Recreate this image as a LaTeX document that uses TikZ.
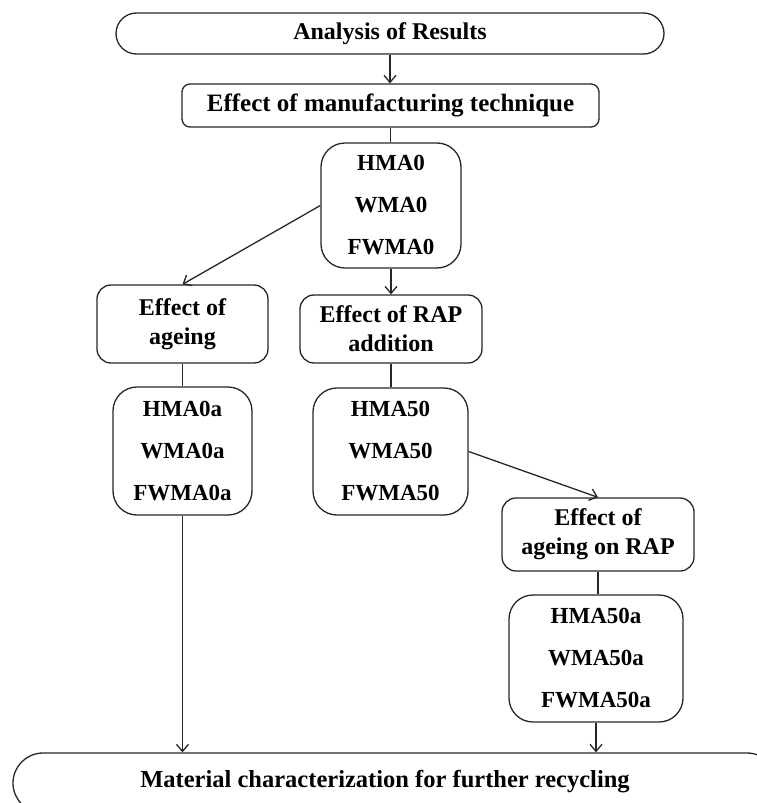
\documentclass[tikz,border=0pt]{standalone}
\usepackage{fontspec}
\setmainfont{Liberation Serif}
\usetikzlibrary{arrows.meta}
\begin{document}
\begin{tikzpicture}[x=1pt,y=-1pt,
  box/.style={draw=black!85,line width=1.3pt,rounded corners=#1,inner sep=0pt,align=center,
    font=\bfseries\fontsize{24}{29}\selectfont},
  box/.default=12pt,
  listbox/.style={box=24pt,font=\bfseries\fontsize{23}{42}\selectfont},
  ln/.style={draw=black!85,line width=1.3pt},
  arr/.style={ln,-{Straight Barb[length=7pt,width=12pt,line width=1.3pt]}}]
\clip (0,0) rectangle (757,803);
\node[box=20.5pt,minimum width=548pt,minimum height=41pt] (top) at (390,33.5) {Analysis of Results};
\node[box=8pt,minimum width=417pt,minimum height=43pt,font=\bfseries\fontsize{25}{29}\selectfont] (m) at (390.5,105.5) {Effect of manufacturing technique};
\node[listbox,minimum width=140pt,minimum height=125pt] (s0) at (391,205.5) {HMA0\\WMA0\\FWMA0};
\node[box=14pt,minimum width=171pt,minimum height=78pt] (ag) at (182.5,324) {Effect of\\ageing};
\node[box=14pt,minimum width=182pt,minimum height=68pt] (rap) at (391,329) {Effect of RAP\\addition};
\node[listbox,minimum width=139pt,minimum height=128pt] (s0a) at (182.5,451) {HMA0a\\WMA0a\\FWMA0a};
\node[listbox,minimum width=155pt,minimum height=127pt] (s50) at (390.5,451.5) {HMA50\\WMA50\\FWMA50};
\node[box=14pt,minimum width=192pt,minimum height=73pt] (agr) at (598,534.5) {Effect of\\ageing on RAP};
\node[listbox,minimum width=174pt,minimum height=127pt] (s50a) at (596,658.5) {HMA50a\\WMA50a\\FWMA50a};
\node[box=30pt,minimum width=764pt,minimum height=60pt] (bot) at (395,783) {};
\node[font=\bfseries\fontsize{24.5}{29}\selectfont,inner sep=0pt] (bt) at (385,782) {Material characterization for further recycling};
\draw[arr] (top.south) -- (top.south |- m.north);
\draw[ln] (m.south) -- (m.south |- s0.north);
\draw[arr] (s0.west) -- (ag.north);
\draw[arr] (s0.south) -- (rap.north);
\draw[ln] (ag.south) -- (s0a.north);
\draw[ln] (rap.south) -- (rap.south |- s50.north);
\draw[arr] (s50.east) -- (agr.north);
\draw[ln] (agr.south) -- (agr.south |- s50a.north);
\draw[arr] (s0a.south) -- (s0a.south |- bot.north);
\draw[arr] (s50a.south) -- (s50a.south |- bot.north);
\end{tikzpicture}
\end{document}
